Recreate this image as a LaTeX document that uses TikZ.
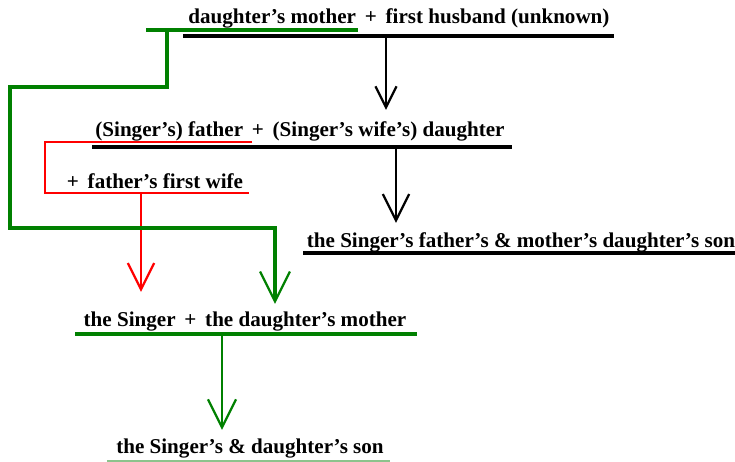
\documentclass[tikz,border=0pt]{standalone}
\usepackage{fontspec}
\setmainfont{Liberation Serif}
\usetikzlibrary{arrows.meta}
\definecolor{famgreen}{RGB}{0,128,0}
\definecolor{famred}{RGB}{255,0,0}
\definecolor{palegreen}{RGB}{140,195,140}

\begin{document}
\begin{tikzpicture}[x=0.02cm, y=-0.02cm,
    lbl/.style={font=\fontsize{12}{14}\selectfont\bfseries, inner sep=0pt},
    blk/.style={black, line width=2.1pt},
    grn/.style={famgreen, line width=2pt},
    rd/.style={famred, line width=1.3pt},
    vtip/.style={-{Straight Barb[length=#1, width=#1, line width=1.3pt]}}]
  \useasboundingbox (0,0) rectangle (735,462);

  % Names
  \node[lbl] (top)    at (399,18)  {daughter's mother \,+\, first husband (unknown)};
  \node[lbl] (couple) at (300,131) {(Singer's) father \,+\, (Singer's wife's) daughter};
  \node[lbl] (first)  at (155,181) {+\, father's first wife};
  \node[lbl] (halfson) at (521,242) {the Singer's father's \& mother's daughter's son};
  \node[lbl] (singer) at (245,322) {the Singer \,+\, the daughter's mother};
  \node[lbl] (son)    at (250,449) {the Singer's \& daughter's son};

  % Key points
  \coordinate (A) at (386,36);
  \coordinate (B) at (396,147);
  \coordinate (C) at (141,193);
  \coordinate (D) at (167,30);
  \coordinate (E) at (222,334);
  \coordinate (Atip) at (386,110);
  \coordinate (Btip) at (396,223);
  \coordinate (Ctip) at (141,292);
  \coordinate (Dtip) at (275,304);
  \coordinate (Etip) at (222,430);

  % Underlines
  \draw[blk] (183,36) -- (614,36);
  \draw[grn] (146,30) -- (358,30);
  \draw[blk] (92,147) -- (512,147);
  \draw[rd]  (252,142) -- (45,142) -- (45,193) -- (249,193);
  \draw[blk] (303,253) -- (735,253);
  \draw[grn] (75,334) -- (417,334);
  \draw[palegreen, line width=0.6pt] (107,461) -- (390,461);

  % Arrows
  \draw[black, line width=1.3pt, vtip=12pt] (A) -- (Atip);
  \draw[black, line width=1.3pt, vtip=15pt] (B) -- (Btip);
  \draw[rd, vtip=15pt] (C) -- (Ctip);
  \draw[grn, vtip=17pt] (D) -- (167,87) -- (10,87) -- (10,228)
    -- (275,228) -- (Dtip);
  \draw[grn, line width=1.4pt, vtip=16pt] (E) -- (Etip);
\end{tikzpicture}
\end{document}
